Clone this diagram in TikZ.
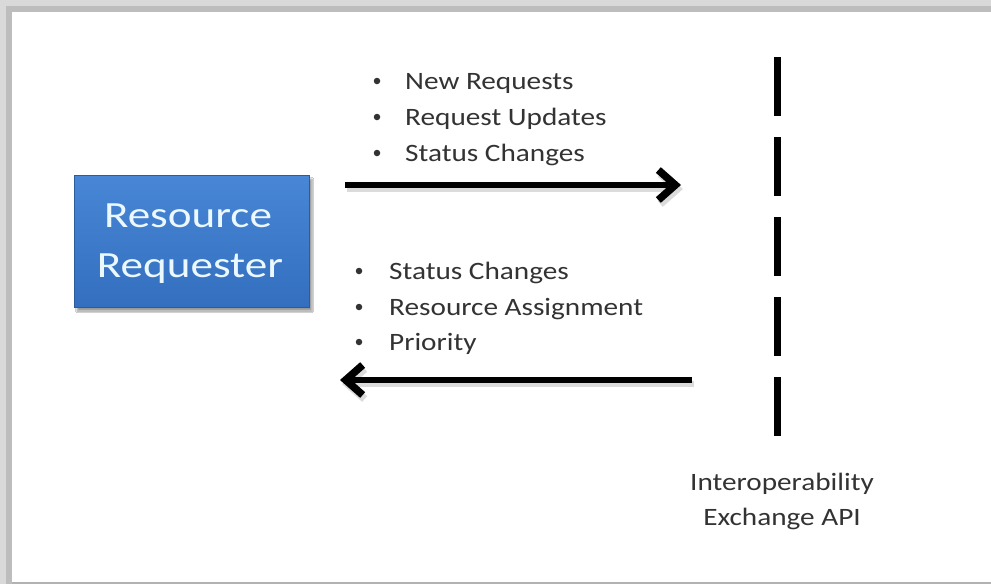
\documentclass[tikz,border=0pt]{standalone}
\usepackage{fontspec}
\usetikzlibrary{arrows.meta,shadows,shadows.blur}
\newfontfamily\lbl[FakeStretch=1.17]{Carlito}
\newfontfamily\boxfont[FakeStretch=1.22]{Carlito}
\definecolor{frameA}{HTML}{D9D9D9}
\definecolor{frameB}{HTML}{BDBDBD}
\definecolor{boxtop}{HTML}{4886D6}
\definecolor{boxbot}{HTML}{336FBE}
\definecolor{boxedge}{HTML}{2A5C9E}
\definecolor{txt}{HTML}{333333}
\tikzset{
  listtext/.style={anchor=base west, inner sep=0pt, text=txt, font=\lbl\fontsize{25}{30}\selectfont},
  bullet/.style={circle, fill=txt, inner sep=0pt, minimum size=6.5pt},
  apitext/.style={anchor=base, inner sep=0pt, text=txt, font=\lbl\fontsize{25}{30}\selectfont},
  flow/.style={line width=6pt, -{Straight Barb[length=17pt,width=30pt,line width=7.5pt]}},
  flowshade/.style={flow, draw=black!40, opacity=0.35},
  actor/.style={minimum width=235pt, minimum height=132pt, inner sep=0pt,
    top color=boxtop, bottom color=boxbot, draw=boxedge, line width=1pt,
    blur shadow={shadow xshift=3pt, shadow yshift=-4pt, shadow blur steps=6}},
  boundary/.style={line width=7pt, dash pattern=on 59pt off 21pt}
}
\begin{document}
\begin{tikzpicture}[x=1pt,y=-1pt]
  % canvas and frame
  \useasboundingbox (0,0) rectangle (991,584);
  \fill[white] (0,0) rectangle (991,584);
  \fill[frameA] (0,0) rectangle (991,6);
  \fill[frameB] (6,6) rectangle (991,12);
  \fill[frameA] (0,0) rectangle (6,584);
  \fill[frameB] (6,6) rectangle (12,584);
  \fill[black!30] (12,582) rectangle (991,584);

  % requester box
  \node[actor] (req) at (191.5,241) {};
  \node[anchor=base, inner sep=0pt, text=white!92!cyan, font=\boxfont\fontsize{37}{40}\selectfont] (reqA) at (188,227) {Resource};
  \node[anchor=base, inner sep=0pt, text=white!92!cyan, font=\boxfont\fontsize{37}{40}\selectfont] (reqB) at (190,277) {Requester};

  % interface boundary
  \coordinate (bTop) at (777,57);
  \coordinate (bBot) at (777,438);
  \draw[boundary] (bTop) -- (bBot);

  % arrow end points
  \coordinate (outA) at (345,185);
  \coordinate (outB) at (681,185);
  \coordinate (inA) at (692,380);
  \coordinate (inB) at (340,380);
  \draw[flowshade] ([shift={(2,4)}]outA) -- ([shift={(2,4)}]outB);
  \draw[flowshade] ([shift={(2,4)}]inA) -- ([shift={(2,4)}]inB);
  \draw[flow] (outA) -- (outB);
  \draw[flow] (inA) -- (inB);

  % outgoing items
  \node[bullet] (b1) at (377,81) {};
  \node[listtext] (t1) at (405,89) {New Requests};
  \node[bullet] (b2) at (377,117) {};
  \node[listtext] (t2) at (405,125) {Request Updates};
  \node[bullet] (b3) at (377,153) {};
  \node[listtext] (t3) at (405,161) {Status Changes};

  % incoming items
  \node[bullet] (b4) at (359,271) {};
  \node[listtext] (t4) at (389,279) {Status Changes};
  \node[bullet] (b5) at (359,307) {};
  \node[listtext] (t5) at (389,315) {Resource Assignment};
  \node[bullet] (b6) at (359,342) {};
  \node[listtext] (t6) at (389,350) {Priority};

  % boundary label
  \node[apitext] (api1) at (782,490) {Interoperability};
  \node[apitext] (api2) at (782,525) {Exchange API};
\end{tikzpicture}
\end{document}
